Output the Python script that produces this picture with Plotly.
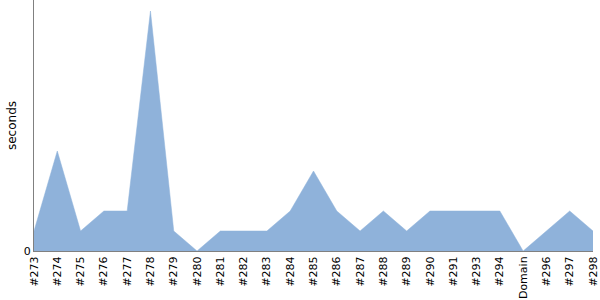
import plotly.graph_objects as go

categories = ["#273", "#274", "#275", "#276", "#277", "#278", "#279", "#280", "#281",
              "#282", "#283", "#284", "#285", "#286", "#287", "#288", "#289", "#290",
              "#291", "#293", "#294", "Domain", "#296", "#297", "#298"]
seconds = [1, 5, 1, 2, 2, 12, 1, 0, 1, 1, 1, 2, 4, 2, 1, 2, 1, 2, 2, 2, 2, 0, 1, 2, 1]

fig = go.Figure()
fig.add_trace(go.Scatter(
    x=list(range(len(categories))), y=seconds, mode="lines",
    fill="tozeroy", fillcolor="#8fb2da",
    line=dict(color="#8fb2da", width=0.5),
    hoverinfo="skip", showlegend=False,
))
fig.update_layout(
    width=600, height=300,
    margin=dict(l=34, r=5, t=0, b=49),
    paper_bgcolor="white", plot_bgcolor="white",
    font=dict(family="DejaVu Sans", size=11, color="black"),
    xaxis=dict(
        range=[0, len(categories) - 1],
        tickmode="array", tickvals=list(range(len(categories))), ticktext=categories,
        tickangle=-90, showgrid=False, zeroline=False,
        showline=True, linecolor="#808080", linewidth=1,
        ticks="", tickfont=dict(size=11), ticklabeloverflow="allow",
    ),
    yaxis=dict(
        range=[0, 12.55], tickmode="array", tickvals=[0], ticktext=["0"],
        showgrid=False, zeroline=False, showline=True, linecolor="#808080", linewidth=1,
        ticks="", title=dict(text="seconds", standoff=4, font=dict(size=12)),
    ),
)
fig.write_html("out.html")
